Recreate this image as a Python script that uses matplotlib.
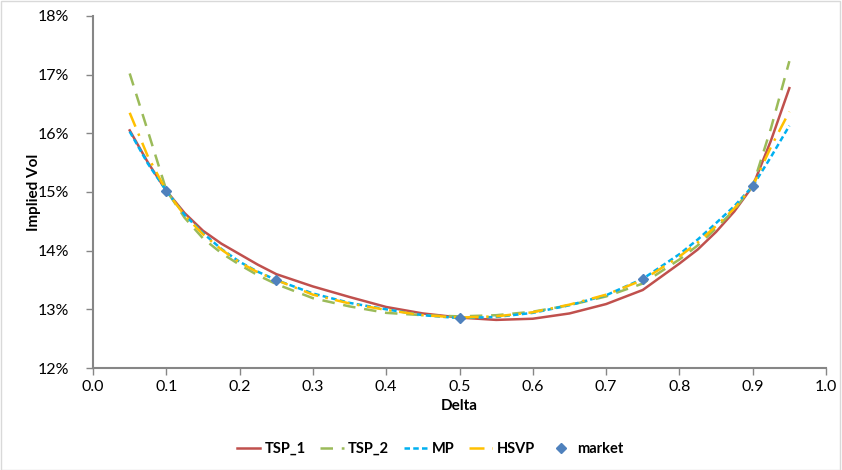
import matplotlib.pyplot as plt
from matplotlib.patches import Rectangle

# Values (implied vol in %)
delta = [0.05, 0.075, 0.1, 0.125, 0.15, 0.175, 0.2, 0.225, 0.25, 0.3, 0.35, 0.4, 0.45, 0.5,
         0.55, 0.6, 0.65, 0.7, 0.75, 0.8, 0.825, 0.85, 0.875, 0.9, 0.925, 0.95]

tsp_1 = [16.05, 15.50, 15.02, 14.64, 14.34, 14.12, 13.94, 13.76, 13.60, 13.39, 13.21, 13.04, 12.93, 12.86,
         12.82, 12.84, 12.93, 13.09, 13.33, 13.78, 14.02, 14.32, 14.67, 15.10, 15.88, 16.77]
tsp_2 = [17.02, 16.03, 15.03, 14.56, 14.21, 13.96, 13.76, 13.58, 13.43, 13.19, 13.05, 12.94, 12.90, 12.88,
         12.90, 12.96, 13.07, 13.22, 13.44, 13.85, 14.09, 14.38, 14.70, 15.10, 16.09, 17.23]
mp = [16.03, 15.48, 15.02, 14.61, 14.30, 14.03, 13.81, 13.64, 13.50, 13.27, 13.11, 13.00, 12.90, 12.85,
      12.87, 12.94, 13.07, 13.24, 13.52, 13.94, 14.19, 14.47, 14.76, 15.10, 15.60, 16.13]
hsvp = [16.35, 15.60, 15.02, 14.60, 14.28, 14.02, 13.80, 13.63, 13.50, 13.25, 13.10, 12.99, 12.90, 12.86,
        12.88, 12.95, 13.08, 13.25, 13.50, 13.90, 14.14, 14.42, 14.72, 15.10, 15.77, 16.37]

mkt_delta = [0.1, 0.25, 0.5, 0.75, 0.9]
mkt_vol = [15.02, 13.50, 12.85, 13.51, 15.11]

plt.rcParams['font.family'] = ['Lato', 'DejaVu Sans']

fig = plt.figure(figsize=(8.42, 4.70), dpi=100)
ax = fig.add_axes([0.1105, 0.217, 0.8705, 0.749])

# light border round the whole chart area
fig.patches.append(Rectangle((0.001, 0.001), 0.997, 0.997, transform=fig.transFigure,
                             fill=False, edgecolor='#d9d9d9', linewidth=1))

ax.plot(delta, tsp_1, color='#C0504D', lw=1.8, label='TSP_1')
ax.plot(delta, tsp_2, color='#9BBB59', lw=1.8, linestyle=(0, (5, 3.5)), label='TSP_2')
ax.plot(delta, mp, color='#00B0F0', lw=1.8, linestyle=(0, (2.2, 1.3)), label='MP')
ax.plot(delta, hsvp, color='#FFC000', lw=1.8, linestyle=(0, (6, 3, 1, 3)), label='HSVP')
ax.plot(mkt_delta, mkt_vol, linestyle='none', marker='D', markersize=5.5,
        color='#4F81BD', label='market')

ax.set_xlim(0, 1)
ax.set_ylim(12, 18)
ax.set_xticks([i / 10 for i in range(11)])
ax.set_xticklabels([f'{i / 10:.1f}' for i in range(11)])
ax.set_yticks(range(12, 19))
ax.set_yticklabels([f'{v}%' for v in range(12, 19)])

for s in ['top', 'right']:
    ax.spines[s].set_visible(False)
for s in ['left', 'bottom']:
    ax.spines[s].set_color('#868686')
    ax.spines[s].set_linewidth(1.5)
ax.tick_params(colors='#868686', labelcolor='black', labelsize=11.5, length=5, width=1)
ax.tick_params(axis='y', pad=12)

ax.set_xlabel('Delta', fontsize=11, fontweight='bold', labelpad=4)
ax.set_ylabel('Implied Vol', fontsize=11, fontweight='bold', labelpad=-2)

ax.legend(loc='center', bbox_to_anchor=(0.46, -0.23), ncol=5, frameon=False,
          prop={'weight': 'bold', 'size': 10.5}, handlelength=1.6, columnspacing=1.0,
          handletextpad=0.3)

fig.savefig('out.png', dpi=100)
